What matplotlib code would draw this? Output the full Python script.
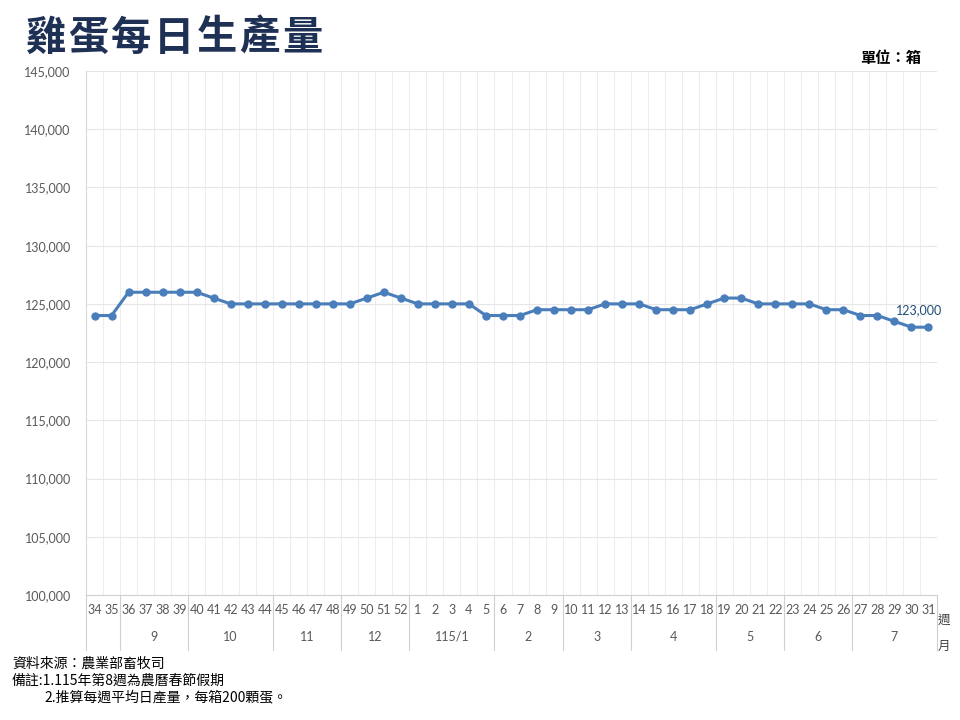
import matplotlib
matplotlib.use("Agg")
import matplotlib.pyplot as plt
import matplotlib.transforms as mtransforms
from matplotlib.ticker import FuncFormatter

plt.rcParams['font.family'] = ['Lato', 'Noto Sans CJK TC', 'DejaVu Sans']

weeks = ['34', '35', '36', '37', '38', '39', '40', '41', '42', '43', '44', '45', '46', '47', '48',
         '49', '50', '51', '52', '1', '2', '3', '4', '5', '6', '7', '8', '9', '10', '11', '12', '13',
         '14', '15', '16', '17', '18', '19', '20', '21', '22', '23', '24', '25', '26', '27', '28',
         '29', '30', '31']
values = [124000, 124000, 126000, 126000, 126000, 126000, 126000, 125500, 125000, 125000,
          125000, 125000, 125000, 125000, 125000, 125000, 125500, 126000, 125500, 125000,
          125000, 125000, 125000, 124000, 124000, 124000, 124500, 124500, 124500, 124500,
          125000, 125000, 125000, 124500, 124500, 124500, 125000, 125500, 125500, 125000,
          125000, 125000, 125000, 124500, 124500, 124000, 124000, 123500, 123000, 123000]
month_labels = ['', '9', '10', '11', '12', '115/1', '2', '3', '4', '5', '6', '7']
month_sizes = [2, 4, 5, 4, 4, 5, 4, 4, 5, 4, 4, 5]
y_ticks = [100000, 105000, 110000, 115000, 120000, 125000, 130000, 135000, 140000, 145000]

title = '雞蛋每日生產量'
unit = '單位：箱'
notes = ['資料來源：農業部畜牧司', '備註:1.115年第8週為農曆春節假期', '2.推算每週平均日產量，每箱200顆蛋。']

fig = plt.figure(figsize=(9.6, 7.2), dpi=100)
ax = fig.add_axes([86/960, 1-595/720, (937-86)/960, (595-71)/720])

n = len(weeks)
xs = list(range(n))
line_color = '#4A7EBB'
ax.plot(xs, values, color=line_color, lw=2.2, marker='o', ms=5, mfc=line_color, mec=line_color, zorder=3)

ax.set_xlim(-0.5, n - 0.5)
ax.set_ylim(y_ticks[0], y_ticks[-1])
ax.set_yticks(y_ticks)
ax.yaxis.set_major_formatter(FuncFormatter(lambda v, p: f'{int(v):,}'))
ax.tick_params(axis='y', length=0, pad=11, labelsize=9, labelcolor='#595959')
ax.set_xticks([i + 0.5 for i in range(n - 1)], minor=True)
ax.set_xticks([])
ax.tick_params(axis='x', which='both', length=0)
ax.grid(True, axis='y', color='#E6E6E6', lw=0.8)
ax.grid(True, axis='x', which='minor', color='#EDEDED', lw=0.8)
ax.set_axisbelow(True)
for s in ['top', 'right']:
    ax.spines[s].set_visible(False)
ax.spines['left'].set_color('#D9D9D9')
ax.spines['bottom'].set_color('#D0D0D0')

# data label on last point
ax.annotate(f'{values[-1]:,}', (xs[-1], values[-1]), xytext=(-7, 12), textcoords='offset points',
            ha='center', va='center', fontsize=9, color='#1F4E79')

trans = mtransforms.blended_transform_factory(ax.transData, ax.transAxes)
for i, w in enumerate(weeks):
    ax.text(i, -0.029, w, transform=trans, ha='center', va='center', fontsize=9, color='#595959')

start = 0
bounds = [-0.5]
for lab, sz in zip(month_labels, month_sizes):
    center = start + (sz - 1) / 2
    ax.text(center, -0.08, lab, transform=trans, ha='center', va='center', fontsize=9, color='#595959')
    start += sz
    bounds.append(start - 0.5)
for b in bounds:
    ax.plot([b, b], [0, -0.105], transform=trans, color='#D0D0D0', lw=0.8, clip_on=False)

fig.text(944/960, 1-620/720, '週', ha='center', va='center', fontsize=9, color='#404040',
         family=['Noto Sans CJK TC'])
fig.text(944/960, 1-646/720, '月', ha='center', va='center', fontsize=9, color='#404040',
         family=['Noto Sans CJK TC'])

# title with wide letter spacing
for k, ch in enumerate(title):
    fig.text((46 + k * 42.7) / 960, 1-38/720, ch, ha='center', va='center', fontsize=29,
             fontweight='bold', color='#1F3055', family=['Noto Sans CJK TC'])
fig.text(921/960, 1-58/720, unit, ha='right', va='center', fontsize=11, fontweight='bold',
         color='#000000', family=['Noto Sans CJK TC'])

fig.text(12/960, 1-664/720, notes[0], ha='left', va='center', fontsize=10, color='#000000',
         family=['Noto Sans CJK TC', 'DejaVu Sans'])
fig.text(12/960, 1-681/720, notes[1], ha='left', va='center', fontsize=10, color='#000000',
         family=['Noto Sans CJK TC', 'DejaVu Sans'])
fig.text(44/960, 1-697/720, notes[2], ha='left', va='center', fontsize=10, color='#000000',
         family=['Noto Sans CJK TC', 'DejaVu Sans'])

fig.savefig('out.png', dpi=100)
